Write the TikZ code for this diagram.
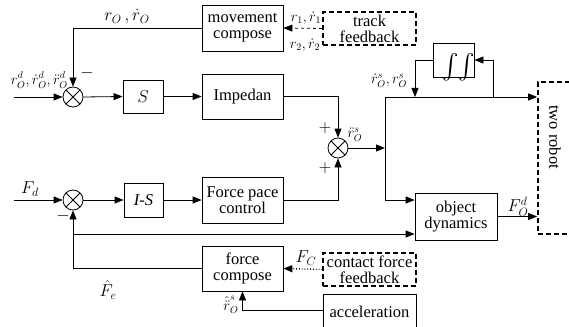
\documentclass[tikz,border=0pt]{standalone}
\usepackage{exscale}
\usepackage{fontspec}
\setmainfont{Liberation Serif}
\usetikzlibrary{arrows.meta}
\tikzset{
  box/.style={draw, line width=0.8pt, align=center, inner sep=0pt},
  dbox/.style={box, dashed, line width=1.6pt, dash pattern=on 5pt off 3pt},
  sum/.style={draw, circle, line width=0.8pt, minimum size=20pt, inner sep=0pt,
    path picture={\draw[line width=0.8pt] (path picture bounding box.north west) -- (path picture bounding box.south east)
      (path picture bounding box.north east) -- (path picture bounding box.south west);}},
  sig/.style={line width=0.8pt, -{Triangle[length=9pt,width=7pt]}},
  lbl/.style={inner sep=0pt},
  sml/.style={lbl, font=\fontsize{14}{14}\selectfont}
}
\begin{document}
\begin{tikzpicture}[x=1pt, y=-1pt, font=\fontsize{16.5}{16}\selectfont]
  \useasboundingbox (0,0) rectangle (569,326);
  \begin{scope}
  \clip (0,0) rectangle (569,326);

  \node[box, minimum width=81pt, minimum height=46pt] (mc) at (242.5,28) {movement\\compose};
  \node[dbox, minimum width=93pt, minimum height=33pt] (tf) at (369.5,28.5) {track\\feedback};
  \node[sum] (s1) at (73,97) {};
  \node[box, minimum width=40pt, minimum height=33pt] (sb) at (143,96.5) {$S$};
  \node[box, minimum width=81pt, minimum height=45pt] (imp) at (242.5,96.5) {Impedan};
  \node[sum] (s2) at (338,148) {};
  \node[box, minimum width=41pt, minimum height=34pt] (integ) at (453.5,60) {};
  \node[lbl, font=\fontsize{26}{26}\selectfont] (integtxt) at (459,67) {$\int\!\int$};
  \node[dbox, minimum width=32pt, minimum height=152pt] (robot) at (554,158) {};
  \node[rotate=-90, lbl] (robtxt) at (555,137) {two robot};
  \node[box, minimum width=82pt, minimum height=47pt] (od) at (456,216.5) {object\\dynamics};
  \node[sum] (s3) at (73,200) {};
  \node[box, minimum width=39pt, minimum height=34pt] (isb) at (143.5,200) {\textit{I-S}};
  \node[box, minimum width=81pt, minimum height=46pt] (fpc) at (242.5,200) {Force pace\\control};
  \node[box, minimum width=81pt, minimum height=45pt] (fc) at (242.5,268.5) {force\\compose};
  \node[dbox, minimum width=93pt, minimum height=33pt] (cff) at (369.5,269.5) {contact force\\feedback};
  \node[box, minimum width=93pt, minimum height=44pt] (acc) at (369.5,316) {\raisebox{8pt}{acceleration}};

  \coordinate (in1) at (14,97);
  \coordinate (in2) at (14,200);
  \coordinate (jv) at (385,97);
  \coordinate (jb) at (385,200);
  \coordinate (ja) at (493,97);
  \coordinate (ji) at (415,97);
  \coordinate (jf) at (73,234);
  \coordinate (jc) at (242,310);

  \draw[sig] (mc.west) -| (s1.north);
  \draw[sig, dashed] (tf.west) -- (mc.east);
  \draw[sig] (in1) -- (s1.west);
  \draw[sig] (s1.east) -- (sb.west);
  \draw[sig] (sb.east) -- (imp.west);
  \draw[sig] (imp.east) -| (s2.north);
  \draw[sig] (in2) -- (s3.west);
  \draw[sig] (s3.east) -- (isb.west);
  \draw[sig] (isb.east) -- (fpc.west);
  \draw[sig] (fpc.east) -| (s2.south);
  \draw[sig] (s2.east) -- (s2.east -| jv);
  \draw[sig] (jv) -- (jb) -- (jb -| od.west);
  \draw[sig] (jv) -- (jv -| robot.west);
  \draw[sig] (ja) |- (integ.east);
  \draw[sig] (integ.west) -| (ji);
  \draw[sig] (od.east) -- (od.east -| robot.west);
  \draw[sig] (fc.west) -| (s3.south);
  \draw[sig] (jf) -- (jf -| od.west);
  \draw[sig, dotted, line width=1.4pt] (cff.west) -- (fc.east);
  \draw[sig] (jc -| acc.west) -| (fc.south);
  \end{scope}

  \node[lbl] (lro) at (127,17) {$r_O\,,\dot r_O$};
  \node[sml, anchor=east] (lrd) at (68,80) {$r^d_O,\dot r^d_O,\ddot r^d_O$};
  \node[lbl] (m1) at (87,73) {$-$};
  \node[sml] (lr1) at (306,18) {$r_1,\dot r_1$};
  \node[sml] (lr2) at (305,45) {$r_2,\dot r_2$};
  \node[lbl] (p1) at (325,128) {$+$};
  \node[lbl] (p2) at (325,168) {$+$};
  \node[sml] (lrs) at (355,135) {$\ddot r_O^s$};
  \node[sml] (lrv) at (389,81) {$\dot r_O^s,r_O^s$};
  \node[lbl] (lfd) at (30,189) {$F_d$};
  \node[lbl] (m2) at (63,216) {$-$};
  \node[lbl] (lfe) at (108,290) {$\hat F_e$};
  \node[lbl] (lfc) at (306,258) {$F_C$};
  \node[sml] (lra) at (231,305) {$\hat{\ddot r}_O^s$};
  \node[lbl] (lfo) at (518,207) {$F_O^d$};
\end{tikzpicture}
\end{document}
